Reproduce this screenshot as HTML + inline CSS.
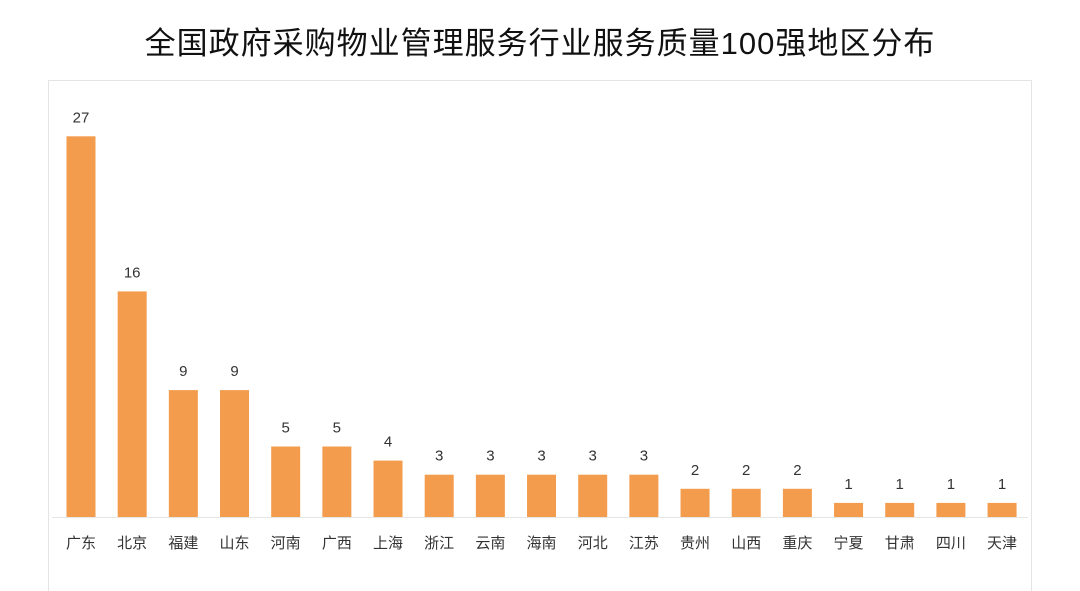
<!DOCTYPE html>
<html><head><meta charset="utf-8"><style>
body{margin:0;background:#fff;width:1080px;height:579px;overflow:hidden;font-family:"Liberation Sans","Noto Sans CJK SC",sans-serif;}
#title{position:absolute;left:0;top:18px;width:1080px;text-align:center;font-size:31px;color:#111;letter-spacing:1px;}
#frame{position:absolute;left:48px;top:80px;width:982px;height:510px;border:1px solid #e4e4e4;border-bottom:none;}
svg{position:absolute;left:0;top:0}
</style></head><body>
<div id="title">全国政府采购物业管理服务行业服务质量100强地区分布</div>
<div id="frame"></div>
<svg id="chart" width="1080" height="579"></svg>
<script>
const categories=["广东","北京","福建","山东","河南","广西","上海","浙江","云南","海南","河北","江苏","贵州","山西","重庆","宁夏","甘肃","四川","天津"];
const values=[27,16,9,9,5,5,4,3,3,3,3,3,2,2,2,1,1,1,1];
const svg=document.getElementById('chart');
const NS='http://www.w3.org/2000/svg';
const base=517, unit=14.1, x0=81, step=51.17, bw=29;
function xs(i){return x0+i*step;}
function ys(v){return base-v*unit;}
const axis=document.createElementNS(NS,'line');


axis.setAttribute('x1',52);axis.setAttribute('x2',1028);axis.setAttribute('y1',base+0.5);axis.setAttribute('y2',base+0.5);
axis.setAttribute('stroke','#e6e6e6');svg.appendChild(axis);
categories.forEach((c,i)=>{
  const v=values[i];
  const r=document.createElementNS(NS,'rect');
  
  
  r.setAttribute('x',xs(i)-bw/2);r.setAttribute('y',ys(v));r.setAttribute('width',bw);r.setAttribute('height',v*unit);
  r.setAttribute('fill','#F39C4D');svg.appendChild(r);
  const t=document.createElementNS(NS,'text');
  
  
  t.setAttribute('x',xs(i));t.setAttribute('y',ys(v)-14);t.setAttribute('text-anchor','middle');
  t.setAttribute('font-size','15');t.setAttribute('fill','#333');t.textContent=v;svg.appendChild(t);
  const l=document.createElementNS(NS,'text');
  
  
  l.setAttribute('x',xs(i));l.setAttribute('y',548);l.setAttribute('text-anchor','middle');
  l.setAttribute('font-size','15');l.setAttribute('fill','#333');l.textContent=c;svg.appendChild(l);
});
</script>
</body></html>
